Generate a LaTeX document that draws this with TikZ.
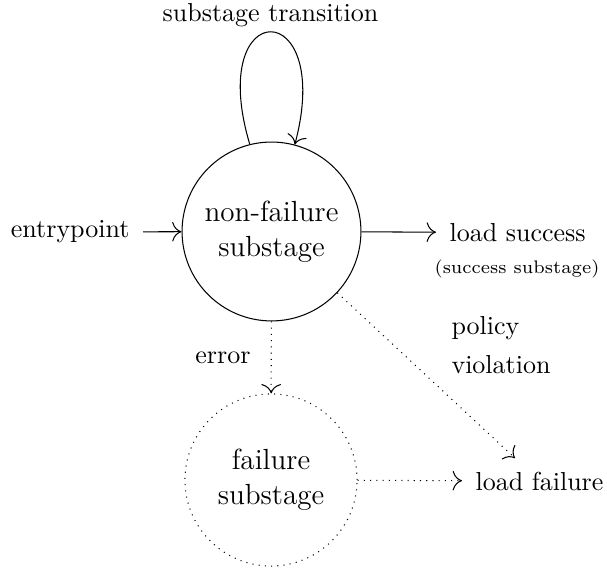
\documentclass[tikz,border=0pt]{standalone}
\usetikzlibrary{arrows.meta}
\begin{document}
\begin{tikzpicture}[x=0.3846pt,y=-0.3846pt,
  >={To[scale=1.45]},
  state/.style={circle,draw,inner sep=0pt,align=center,
    font=\fontsize{11.2}{13.6}\selectfont},
  lbl/.style={inner sep=5pt},
  flow/.style={->},
  failflow/.style={->,dotted}]
\useasboundingbox (0,0) rectangle (607,571);

% states
\node[state,minimum size=68.8pt] (n) at (271.5,231.5) {non-failure\\substage};
\node[state,dotted,minimum size=66.2pt] (f) at (271,480) {failure\\substage};

% terminal labels
\node[lbl,anchor=east] (entry) at (143,232) {entrypoint};
\node[lbl,anchor=west] (ls) at (436,232.5) {load success};
\node[lbl] (lss) at (517,269) {\scriptsize (success substage)};
\node[lbl,anchor=west] (lf) at (462,481) {load failure};

% transitions
\draw[flow] (entry) -- (n);
\draw[flow] (n) -- (ls);
\draw[flow] (n.104) .. controls (205,-5.6) and (335,-5.6) .. (n.75);
\node[lbl,anchor=base] (loop) at (270.5,22) {substage transition};

\draw[failflow] (n) -- (f);
\node[lbl] (err) at (223,358) {error};

\draw[failflow] (n) -- (lf);
\node[lbl,anchor=base west,align=left] (pol) at (438,374) {policy\\[3pt]violation};

\draw[failflow] (f) -- (lf);
\end{tikzpicture}
\end{document}
